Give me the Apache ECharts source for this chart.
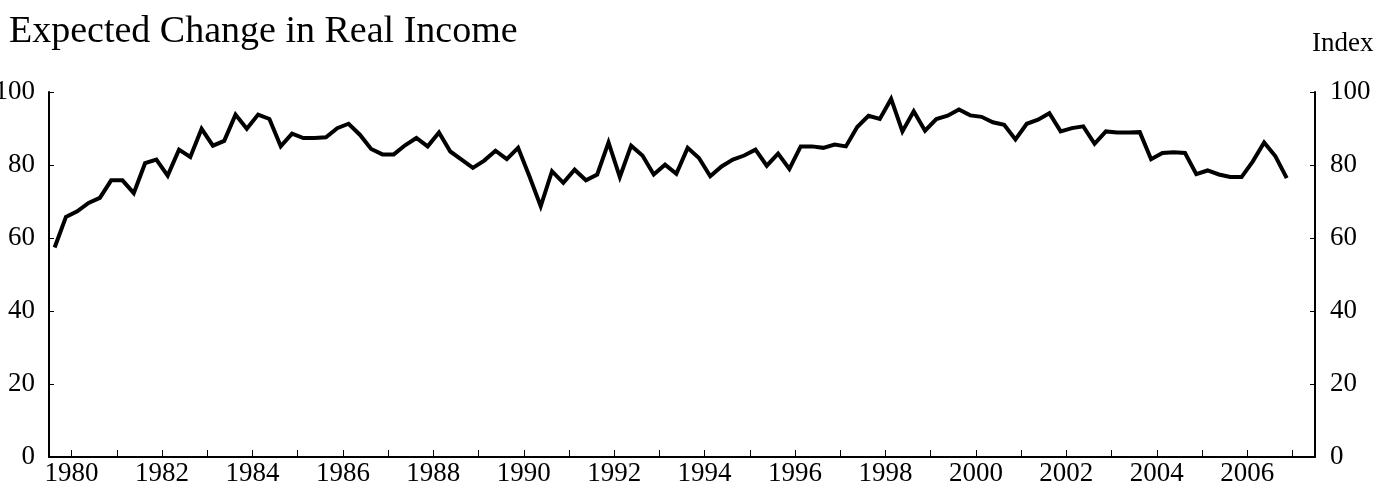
<!DOCTYPE html>
<html>
<head>
<meta charset="UTF-8">
<script src="https://cdn.jsdelivr.net/npm/echarts@6/dist/echarts.min.js" type="text/javascript" charset="UTF-8"></script>
<style>
    html, body { margin: 0; padding: 0; background: #fff; }
    #echarts { width: 1375px; height: 492px; }
</style>
</head>
<body>
<div id="echarts"></div>
<script type="text/javascript">
    // quarterly index, 1979Q3 .. 2006Q4
    var startYear = 1979;
    var startQuarter = 3;
    var values = [
        57.4, 65.8, 67.3, 69.6, 71.0, 75.8, 75.8, 72.3, 80.5, 81.5,
        77.1, 84.2, 82.2, 89.9, 85.3, 86.6, 93.8, 89.9, 93.8, 92.6,
        85.1, 88.6, 87.4, 87.4, 87.6, 90.1, 91.3, 88.3, 84.4, 82.9,
        82.9, 85.4, 87.4, 85.1, 88.9, 83.7, 81.5, 79.2, 81.2, 83.9,
        81.6, 84.7, 76.9, 68.7, 78.3, 75.1, 78.7, 75.8, 77.4, 86.2,
        76.7, 85.3, 82.6, 77.4, 80.1, 77.6, 84.7, 81.9, 76.9, 79.6,
        81.5, 82.6, 84.2, 79.8, 83.1, 78.9, 85.1, 85.1, 84.7, 85.6,
        85.1, 90.4, 93.5, 92.6, 98.1, 89.2, 94.7, 89.4, 92.6, 93.5,
        95.2, 93.6, 93.2, 91.7, 91.0, 87.0, 91.3, 92.4, 94.2, 89.2,
        90.1, 90.6, 85.8, 89.2, 88.9, 88.9, 89.0, 81.6, 83.3, 83.5,
        83.3, 77.5, 78.5, 77.4, 76.7, 76.7, 81.0, 86.2, 82.4, 76.4
    ];
    var tickYears = [1980, 1981, 1982, 1983, 1984, 1985, 1986, 1987, 1988, 1989,
        1990, 1991, 1992, 1993, 1994, 1995, 1996, 1997, 1998, 1999,
        2000, 2001, 2002, 2003, 2004, 2005, 2006, 2007];
    var labelYears = [1980, 1982, 1984, 1986, 1988, 1990, 1992, 1994, 1996, 1998,
        2000, 2002, 2004, 2006];
    var yTicks = [0, 20, 40, 60, 80, 100];

    var serif = "'Liberation Serif', 'Times New Roman', serif";

    // each quarter sits in the middle of its quarter-year slot
    var seriesData = [];
    for (var i = 0; i < values.length; i++) {
        var q = startQuarter - 1 + i;
        var x = startYear + Math.floor(q / 4) + ((q % 4) + 0.5) / 4;
        seriesData.push([x, values[i]]);
    }

    function yAxisOpt(pos) {
        return {
            type: 'value',
            position: pos,
            min: yTicks[0],
            max: yTicks[yTicks.length - 1],
            interval: yTicks[1] - yTicks[0],
            splitLine: { show: false },
            axisLine: { show: true, lineStyle: { color: '#000', width: 2 } },
            axisTick: { show: true, inside: true, length: 5, lineStyle: { color: '#000', width: 1 } },
            axisLabel: { color: '#000', fontFamily: serif, fontSize: 27, margin: pos == 'left' ? 14 : 15 }
        };
    }

    var option = {
        backgroundColor: '#fff',
        animation: false,
        title: [
            {
                text: 'Expected Change in Real Income',
                left: 4,
                top: 8,
                textStyle: { color: '#000', fontFamily: serif, fontSize: 38, fontWeight: 'normal' }
            },
            {
                text: 'Index',
                left: 1307,
                top: 25,
                textStyle: { color: '#000', fontFamily: serif, fontSize: 27, fontWeight: 'normal' }
            }
        ],
        grid: { left: 49, right: 60, top: 92, bottom: 35, outerBoundsMode: 'none' },
        xAxis: {
            type: 'value',
            min: 1979.5,
            max: 2007.5,
            splitLine: { show: false },
            axisLine: { show: true, onZero: false, lineStyle: { color: '#000', width: 2 } },
            axisTick: { show: true, inside: true, length: 7, customValues: tickYears, lineStyle: { color: '#000', width: 1 } },
            axisLabel: {
                color: '#000', fontFamily: serif, fontSize: 27, margin: 3,
                customValues: labelYears,
                formatter: function (v) { return String(v); }
            }
        },
        yAxis: [yAxisOpt('left'), yAxisOpt('right')],
        series: [
            {
                type: 'line',
                yAxisIndex: 0,
                data: seriesData,
                symbol: 'none',
                lineStyle: { color: '#000', width: 4, join: 'miter' }
            }
        ]
    };

    var myChart = echarts.init(document.getElementById('echarts'));
    myChart.setOption(option);
</script>
</body>
</html>
